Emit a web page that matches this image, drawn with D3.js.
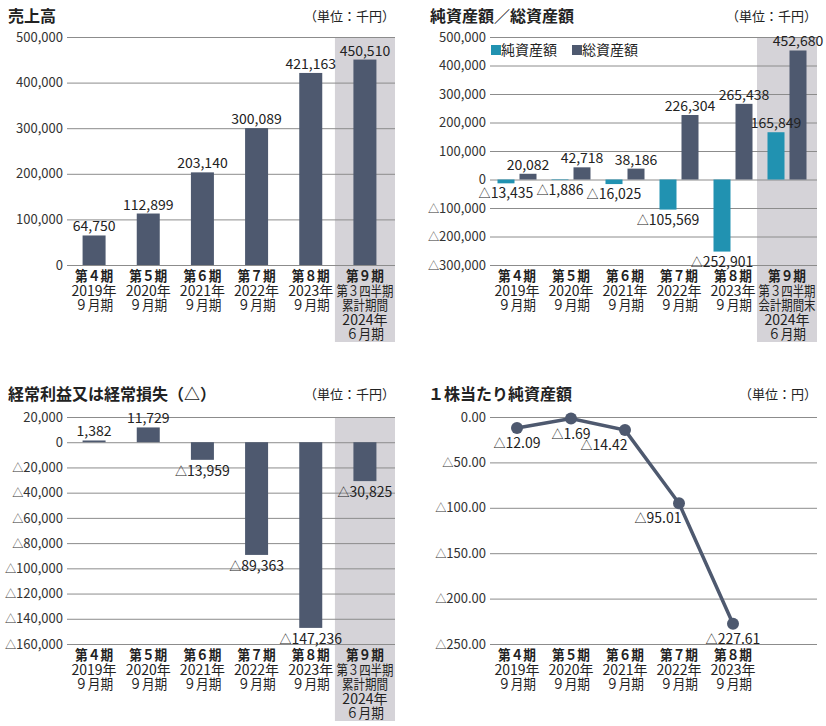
<!DOCTYPE html>
<html><head><meta charset="utf-8">
<script src="https://cdn.jsdelivr.net/npm/d3@7"></script>
<style>
body{margin:0;background:#fff;}
svg{display:block;font-family:"Noto Sans CJK JP","Noto Sans",sans-serif;}
</style></head>
<body><svg id="c" width="826" height="726"></svg>
<script>
// ---- data ----
const periods = ["第４期","第５期","第６期","第７期","第８期","第９期"];
const yearLines = ["2019年","2020年","2021年","2022年","2023年"];
const monthLine = "９月期";
const lastLinesCum = ["第３四半期","累計期間","2024年","６月期"];
const lastLinesEnd = ["第３四半期","会計期間末","2024年","６月期"];

const sales = [64750,112899,203140,300089,421163,450510];
const netAssets = [-13435,-1886,-16025,-105569,-252901,165849];
const totalAssets = [20082,42718,38186,226304,265438,452680];
const ordinaryIncome = [1382,11729,-13959,-89363,-147236,-30825];
const bps = [-12.09,-1.69,-14.42,-95.01,-227.61];

const ticksSales = [0,100000,200000,300000,400000,500000];
const ticksAssets = [-300000,-200000,-100000,0,100000,200000,300000,400000,500000];
const ticksIncome = [-160000,-140000,-120000,-100000,-80000,-60000,-40000,-20000,0,20000];
const ticksBps = [-250,-200,-150,-100,-50,0];

const legendLabels = ["純資産額","総資産額"];

// ---- style ----
const DARK = "#4e596f", TEAL = "#2192b1", SHADE = "#d5d3d8", GRID = "#8c8c8c", TXT = "#222";
const svg = d3.select("#c");

const absInt = v => d3.format(",")(Math.abs(v));
const abs2 = v => d3.format(",.2f")(Math.abs(v));

function writeVal(sel, fmt){
  sel.each(function(d){
    const t = d3.select(this);
    t.text(null);
    if (d < 0) t.append("tspan").attr("font-size", "0.86em").text("△");
    t.append("tspan").text(fmt(d));
  });
}

function labelsFor(i, last){
  if (i < 5) return [periods[i], yearLines[i], monthLine];
  return [periods[i]].concat(last);
}

function panel(o){
  const g = svg.append("g");
  const x = d3.scaleBand().domain(d3.range(6)).range([o.x0, o.x1 - 3]);
  const y = d3.scaleLinear().domain(o.domain).range([o.yb, o.yt]);
  const cx = i => x(i) + x.bandwidth()/2;
  g.append("text").attr("x", o.tx).attr("y", o.ty).attr("font-size", 16).attr("font-weight", "bold")
    .attr("fill", TXT).text(o.title);
  g.append("text").attr("x", o.x1).attr("y", o.ty - 1).attr("font-size", 13).attr("text-anchor", "end")
    .attr("fill", TXT).text(o.unit);
  if (o.shade){
    g.append("rect").attr("x", cx(5) - 30).attr("y", o.yt).attr("width", o.x1 - (cx(5) - 30))
      .attr("height", o.yb - o.yt + 77).attr("fill", SHADE);
  }
  const ax = g.append("g").attr("transform", `translate(${o.x0},0)`)
    .call(d3.axisLeft(y).tickValues(o.ticks).tickSize(-(o.x1 - o.x0)).tickPadding(4));
  ax.select(".domain").remove();
  ax.selectAll(".tick line").attr("stroke", GRID).attr("stroke-width", 1);
  ax.selectAll(".tick text").attr("font-size", 13).attr("fill", "#333")
    .attr("font-family", '"Noto Sans CJK JP",sans-serif').call(writeVal, o.fmt);
  const nCats = o.nCats || 6;
  for (let i = 0; i < nCats; i++){
    const lines = labelsFor(i, o.lastLines);
    lines.forEach((s, k) => {
      const t = g.append("text").attr("x", cx(i)).attr("y", o.yb + 16 + k*14.6)
        .attr("text-anchor", "middle").attr("font-size", 14).attr("fill", TXT)
        .attr("font-weight", k === 0 ? "bold" : "normal").text(s);
      const hasYear = /\d{4}/.test(s);
      if (!hasYear){
        const w = {3:38, 4:46, 5:57}[s.length];
        if (w) t.attr("textLength", w).attr("lengthAdjust", "spacingAndGlyphs");
      }
    });
  }
  return {g, x, y, cx};
}

function drawBars(p, data, color, bw, off){
  const {g, y, cx} = p;
  g.append("g").selectAll("rect").data(data).join("rect")
    .attr("x", (d,i) => cx(i) + off - bw/2)
    .attr("y", d => y(Math.max(0, d)))
    .attr("width", bw)
    .attr("height", d => Math.abs(y(d) - y(0)))
    .attr("fill", color);
}
function drawBarLabels(p, data, off, labelDy){
  const {g, y, cx} = p;
  g.append("g").selectAll("text").data(data).join("text")
    .attr("x", (d,i) => cx(i) + off)
    .attr("y", d => d >= 0 ? y(d) - 4 : y(d) + labelDy)
    .attr("text-anchor", "middle").attr("font-size", 14).attr("fill", TXT)
    .call(writeVal, absInt);
}

// Panel 1: 売上高
const p1 = panel({x0:67, x1:395, yt:37, yb:265, domain:[0,500000], ticks:ticksSales, fmt:absInt,
  title:"売上高", unit:"（単位：千円）", tx:8, ty:22, shade:true, lastLines:lastLinesCum});
drawBars(p1, sales, DARK, 23, 0);
drawBarLabels(p1, sales, 0, 16);

// Panel 2: 純資産額／総資産額
const p2 = panel({x0:490, x1:817, yt:37, yb:265, domain:[-300000,500000], ticks:ticksAssets, fmt:absInt,
  title:"純資産額／総資産額", unit:"（単位：千円）", tx:430, ty:22, shade:true, lastLines:lastLinesEnd});
drawBars(p2, netAssets, TEAL, 17, -11);
drawBars(p2, totalAssets, DARK, 17, 11);
drawBarLabels(p2, totalAssets, 11, 15);
drawBarLabels(p2, netAssets, -11, 15);
const lg = p2.g.append("g");
[TEAL, DARK].forEach((c, i) => {
  const lx = 491 + i*81;
  lg.append("rect").attr("x", lx).attr("y", 45).attr("width", 10).attr("height", 10).attr("fill", c);
  lg.append("text").attr("x", lx + 10).attr("y", 55).attr("font-size", 14).attr("fill", TXT).text(legendLabels[i]);
});

// Panel 3: 経常利益又は経常損失（△）
const p3 = panel({x0:67, x1:395, yt:417, yb:644, domain:[-160000,20000], ticks:ticksIncome, fmt:absInt,
  title:"経常利益又は経常損失（△）", unit:"（単位：千円）", tx:8, ty:400, shade:true, lastLines:lastLinesCum});
drawBars(p3, ordinaryIncome, DARK, 23, 0);
drawBarLabels(p3, ordinaryIncome, 0, 16);

// Panel 4: １株当たり純資産額
const p4 = panel({x0:490, x1:817, yt:417, yb:644, domain:[-250,0], ticks:ticksBps, fmt:abs2,
  title:"１株当たり純資産額", unit:"（単位：円）", tx:428, ty:400, shade:false, nCats:5});
const line = d3.line().x((d,i) => p4.cx(i)).y(d => p4.y(d));
p4.g.append("path").datum(bps).attr("d", line).attr("fill", "none").attr("stroke", DARK).attr("stroke-width", 3.5);
p4.g.append("g").selectAll("circle").data(bps).join("circle")
  .attr("cx", (d,i) => p4.cx(i)).attr("cy", d => p4.y(d)).attr("r", 6).attr("fill", DARK);
p4.g.append("g").selectAll("text").data(bps).join("text")
  .attr("x", (d,i) => p4.cx(i) + ((i < bps.length-1 && bps[i] - bps[i+1] > 30) ? -21 : 0))
  .attr("y", d => p4.y(d) + 20)
  .attr("text-anchor", "middle").attr("font-size", 14).attr("fill", TXT).call(writeVal, abs2);
</script></body></html>
